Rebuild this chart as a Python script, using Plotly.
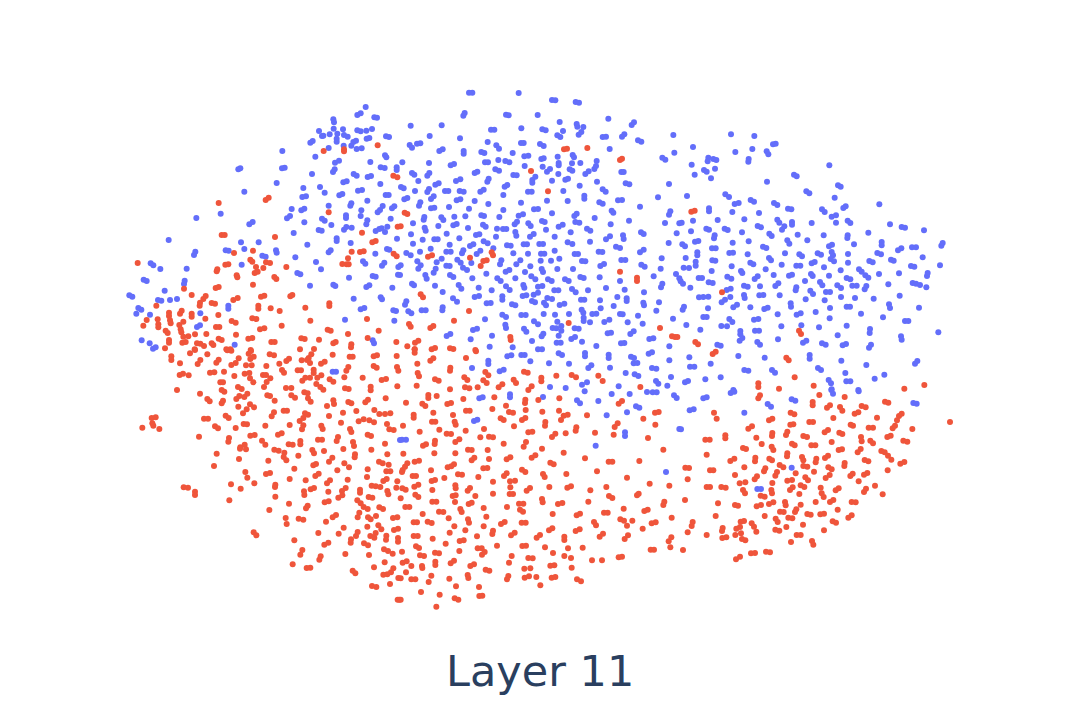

import plotly.graph_objects as go

# positions are read in blocks, each with its own origin (scale: 3 units = 1 px)
blue_a = [(737,81),(712,105),(722,100),(763,112),(771,113),(640,118),(642,127),(597,153),(641,146),(669,148),(712,151),(722,154),(739,152),(756,147),(606,168),(610,167),(629,163),(652,161),(672,165),(683,170),(650,176),(650,185),(798,169),(807,171),(740,176),(748,174),(571,188),(578,183),(700,186),(708,182),(671,197),(694,197),(626,204),(710,207),(725,205),(487,213),(795,226),(799,232),(586,230),(645,248),(657,242),(751,246),(355,268),(361,265),(486,265),(494,263),(782,262),(794,264),(830,262),(830,270),(639,276),(644,268),(576,282),(701,282),(710,287),(743,291),(753,288),(470,309),(670,307),(680,304),(781,312),(550,324),(600,321),(373,335),(614,338),(714,332),(726,330),(547,351),(558,349),(658,346),(667,342),(797,345),(806,345),(742,362),(691,377),(694,370),(626,377),(515,387),(544,391),(553,386),(788,378),(816,385),(823,379),(724,391),(773,397),(780,390),(302,401),(229,414),(678,406),(678,414),(722,408),(501,415),(510,408),(606,416),(614,422),(812,416),(553,427),(388,433),(398,426),(742,421),(739,433),(634,435),(672,449),(679,441),(695,443),(802,440),(596,450),(605,452),(767,453),(778,447),(785,445),(795,456),(521,459),(831,476),(650,475),(650,483),(692,489),(146,480),(562,494),(801,507),(808,509),(626,517),(632,511),(317,511),(326,512),(363,487),(416,487),(373,507),(468,511),(470,518),(766,521),(222,525),(226,515),(427,527),(437,530),(526,532),(588,546),(729,544),(736,551),(786,557),(793,548),(365,554),(92,550),(100,556),(121,567),(200,566),(603,568),(835,561),(532,579),(541,583),(758,588),(767,590),(834,584),(687,593),(71,599),(80,603),(194,602),(192,612),(570,617),(640,614),(646,618),(739,621),(748,616),(817,623),(134,632),(28,646),(37,650),(114,660),(124,662),(150,660),(171,657),(701,656),(782,652),(786,658),(325,677),(325,686),(55,684),(64,689),(722,688),(733,684),(820,691),(828,693),(49,701),(90,704),(241,700),(675,719),(823,722),(231,741),(240,736),(65,781),(89,790),(99,806),(107,802),(344,794),(758,781),(762,790)]
red_a = [(672,208),(672,214),(611,213),(773,196),(820,287),(832,292),(437,360),(446,353),(296,369),(626,397),(833,440),(726,458),(305,465),(314,465),(465,471),(757,487),(767,483),(342,519),(399,512),(695,515),(720,516),(731,514),(821,521),(830,529),(684,535),(391,539),(397,545),(438,547),(450,549),(667,552),(680,553),(686,553),(316,554),(325,553),(53,549),(430,564),(408,561),(499,561),(290,574),(292,568),(404,579),(413,575),(350,586),(352,592),(463,591),(469,597),(399,614),(192,626),(287,624),(296,621),(215,645),(423,650),(433,647),(511,649),(517,645),(257,648),(250,657),(340,660),(353,654),(240,668),(239,677),(275,669),(285,671),(628,670),(628,678),(109,677),(415,677),(415,686),(452,685),(556,683),(180,701),(185,692),(147,698),(147,708),(215,701),(215,710),(479,693),(295,705),(256,716),(397,715),(409,717),(571,722),(741,717),(150,721),(152,730),(113,718),(335,723),(347,728),(178,735),(190,725),(80,720),(70,737),(115,733),(115,742),(288,741),(298,741),(485,737),(420,748),(433,745),(623,749),(632,752),(776,752),(137,752),(143,759),(182,748),(184,757),(259,762),(225,763),(348,764),(684,762),(205,769),(190,770),(385,776),(397,774),(296,776),(305,780),(544,775),(554,777),(597,779),(743,774),(147,780),(147,788),(187,788),(197,786),(454,786),(464,786),(640,790),(647,786),(829,786),(231,790),(241,791),(275,790),(280,795),(694,793),(693,802),(252,798),(135,805),(224,808),(319,808),(331,808),(392,810),(540,808),(582,807)]
blue_b = [(207,38),(217,38),(356,39),(456,60),(466,61),(527,66),(537,68),(190,107),(194,99),(318,104),(326,106),(413,105),(625,116),(479,126),(32,137),(125,136),(530,132),(532,140),(695,135),(702,127),(273,149),(283,149),(364,145),(427,148),(437,151),(550,141),(489,153),(536,164),(544,156),(472,166),(481,171),(89,168),(180,175),(820,165),(608,171),(618,170),(666,170),(673,163),(714,181),(724,185),(263,186),(363,189),(371,189),(51,191),(61,190),(29,195),(36,203),(420,192),(431,198),(289,196),(297,206),(629,207),(118,213),(128,208),(191,213),(191,221),(244,216),(253,219),(338,219),(823,218),(373,229),(385,227),(473,230),(518,225),(522,232),(787,233),(796,239),(424,237),(431,235),(7,247),(87,249),(295,240),(316,243),(328,247),(255,247),(264,247),(541,249),(590,243),(516,250),(476,249),(476,256),(152,256),(162,252),(374,258),(428,260),(583,267),(588,258),(441,275),(450,267),(509,268),(517,272),(286,268),(297,272),(224,279),(232,275),(664,276),(671,276),(36,279),(43,284),(82,287),(88,279),(340,285),(350,286),(475,282),(556,282),(566,274),(406,290),(397,300),(397,308),(496,299),(504,296),(262,305),(266,296),(168,303),(181,298),(456,302),(55,303),(591,305),(677,310),(688,313),(807,312),(106,314),(116,310),(314,320),(322,315),(539,317),(3,321),(11,325),(45,333),(82,336),(87,327),(135,333),(145,333),(179,333),(191,335),(241,335),(251,329),(384,335),(395,335),(490,333),(608,328),(617,335),(310,345),(93,357),(101,349),(553,347),(553,356),(13,358),(22,354),(170,361),(181,358),(224,363),(441,362),(503,363),(654,361),(666,360),(774,352),(363,368),(265,372),(57,377),(61,367),(598,367),(608,371),(147,381),(93,385),(103,383),(207,386),(720,380),(310,390),(402,388),(414,387),(635,392),(640,398),(807,404),(811,394),(456,400),(244,406),(252,408),(356,407),(369,403),(523,408),(530,401),(71,419),(73,411),(124,412),(130,420),(163,410),(196,409),(298,411),(584,414),(426,423),(434,426),(526,426),(538,428),(687,422),(39,430),(795,429),(344,433),(351,425),(385,430),(392,438),(632,433),(838,430),(160,436),(170,432),(115,438),(476,440),(488,434),(249,434),(257,440),(204,444),(74,443),(77,452),(291,446),(309,447),(319,447),(438,449),(561,446),(571,452),(512,457),(33,463),(140,461),(723,457),(731,462),(830,460),(346,456),(349,467),(228,465),(238,463),(390,470),(401,462),(288,470),(669,466),(671,477),(618,478),(630,469),(178,475),(68,479),(103,478),(113,478),(464,470),(251,484),(263,490),(39,491),(149,494),(210,498),(220,493),(321,496),(332,497),(371,493),(381,493),(418,492),(429,492),(503,487),(517,492),(570,485),(806,489),(92,506),(280,505),(648,500),(660,504),(464,512),(19,519),(32,526),(60,515),(139,515),(152,515),(186,520),(190,511),(230,522),(241,512),(340,520),(384,521),(423,521),(433,521),(596,515),(607,516),(720,517),(731,509),(524,522),(534,522),(125,536),(785,535),(172,539),(182,548),(214,549),(478,536),(52,544),(300,553),(304,541),(349,553),(361,541),(422,542),(453,542),(546,543),(556,544),(664,540),(676,540),(2,556),(62,556),(110,547),(139,557),(149,558),(391,559),(601,558),(612,552),(724,554),(734,560),(55,566),(189,563),(201,570),(472,567),(519,567),(782,566),(101,578),(107,566),(317,575),(328,570),(375,576),(425,567),(429,576),(259,581),(0,585),(150,585),(160,591),(76,585),(80,596),(346,595),(394,589),(406,598),(541,591),(551,594),(599,592),(761,589),(828,582),(838,595),(217,595),(292,595),(302,603),(444,598),(455,603),(495,598),(506,603),(660,603),(783,622),(787,611),(36,611),(42,616),(105,617),(176,615),(184,626),(370,615),(373,623),(414,620),(427,618),(236,623),(318,619),(329,630),(618,624),(516,627),(527,637),(564,631),(674,629),(128,636),(275,631),(463,631),(475,631),(732,637),(401,644),(414,638),(224,651),(237,648),(368,648),(379,646),(652,651),(307,649),(307,659),(442,654),(456,657),(159,655),(171,665),(543,659),(553,659),(600,661),(680,655),(680,663),(260,670),(272,669),(396,663),(405,667),(777,667),(15,674),(19,664),(336,673),(346,676),(479,675),(493,671),(432,668),(438,676),(730,668),(732,676),(641,678),(128,682),(127,691),(65,691),(77,691),(602,685),(769,692),(25,694),(34,700),(545,689),(550,698),(431,702),(465,704),(507,702),(577,702),(589,701),(660,702),(668,703),(307,704),(318,711),(364,705),(377,705),(714,707),(551,713),(551,723),(255,718),(819,716),(472,725),(402,724),(414,733),(613,726),(628,719),(570,727),(683,727),(728,731),(316,734),(318,744),(484,738),(524,745),(536,746),(219,750),(231,746),(372,746),(379,755),(458,744),(469,745),(484,752),(691,762),(701,754),(140,768),(151,762),(623,760),(633,758),(276,767),(425,769),(430,761),(476,767),(748,777),(760,775),(212,778),(396,783),(514,777),(525,771),(546,785),(470,788),(482,788),(663,790),(673,789),(589,798),(269,800),(338,802),(808,799),(414,808),(426,808)]
red_b = [(492,208),(501,206),(562,204),(660,240),(666,236),(393,273),(444,334),(14,398),(22,402),(2,439),(84,530),(96,526),(210,533),(275,517),(279,526),(250,543),(260,541),(242,558),(660,575),(711,593),(711,603),(62,643),(69,652),(207,693),(162,722),(506,729),(27,732),(32,740),(91,744),(100,738),(780,744),(331,771),(332,780),(816,769),(825,771),(832,771),(45,788),(55,782),(22,799),(95,808),(105,804),(150,805),(160,807),(44,808),(226,810)]
blue_c = [(153,43),(223,48),(279,73),(287,71),(39,81),(217,87),(166,96),(260,94),(265,103),(85,113),(83,124),(100,117),(109,120),(206,117),(205,125),(35,134),(448,136),(72,150),(80,155),(105,146),(44,164),(342,164),(350,169),(93,175),(261,185),(474,196),(482,200),(379,214),(388,220),(21,228),(136,223),(147,231),(464,233),(212,240),(222,245),(164,252),(176,249),(282,249),(292,255),(598,253),(490,264),(497,259),(87,265),(87,274),(324,266),(334,268),(426,268),(434,276),(157,276),(237,279),(455,290),(468,286),(39,302),(113,300),(193,298),(5,308),(292,299),(298,308),(336,306),(336,314),(395,309),(468,308),(503,302),(511,309),(630,313),(665,321),(675,323),(233,318),(243,322),(306,329),(313,319),(79,326),(87,329),(134,326),(143,330),(33,334),(186,337),(565,338),(732,331),(268,341),(275,348),(353,344),(431,346),(503,346),(502,354),(102,355),(104,346),(45,365),(55,363),(382,361),(322,361),(328,371),(206,364),(158,368),(605,366),(605,376),(522,373),(784,377),(788,369),(7,373),(15,379),(447,379),(456,374),(249,380),(259,384),(96,385),(107,385),(654,391),(664,385),(696,382),(708,382),(52,397),(52,406),(148,399),(159,398),(203,403),(315,400),(358,403),(366,409),(413,400),(423,404),(455,396),(459,406),(504,402),(592,399),(603,403),(17,414),(267,414),(273,421),(97,421),(106,422),(728,412),(452,417),(462,424),(633,419),(641,422),(211,428),(220,433),(305,434),(504,428),(568,423),(578,427),(47,425),(47,437),(349,437),(361,437),(395,430),(404,426),(11,443),(27,444),(155,439),(432,442),(693,438),(703,440),(780,436),(257,448),(95,453),(183,453),(187,459),(482,451),(537,448),(545,455),(657,460),(281,465),(327,467),(336,464),(393,462),(398,468),(447,467),(597,462),(741,468),(743,459),(556,466),(565,473),(224,477),(233,469),(56,474),(66,474),(142,470),(154,476),(500,474),(511,478),(375,483),(2,484),(9,491),(86,487),(98,489),(420,486),(427,496),(625,493),(698,489),(708,491),(720,495),(286,498),(295,490),(192,497),(203,500),(240,499),(472,496),(483,504),(517,497),(530,497),(739,502),(31,503),(347,511),(349,502),(140,510),(152,506),(554,508),(559,498),(391,512),(399,522),(438,516),(450,516),(659,527),(57,532),(70,531),(85,530),(151,531),(192,525),(194,534),(238,526),(250,525),(299,526),(483,531),(525,534),(125,547),(135,539),(377,538),(434,541),(581,536),(332,550),(333,560),(160,562),(171,554),(500,560),(510,560),(8,569),(12,560),(84,565),(211,562),(253,567),(263,563),(450,564),(627,553),(630,564),(717,563),(293,583),(350,584),(362,580),(407,576),(543,581),(70,591),(80,591),(609,592),(222,599),(235,597),(449,595),(148,597),(157,606),(675,603),(685,603),(19,615),(124,618),(141,619),(304,619),(364,616),(500,617),(417,622),(61,629),(225,632),(237,632),(570,627),(569,639),(775,637),(181,633),(181,643),(473,646),(179,662),(187,654),(294,658),(663,649),(665,659),(232,666),(240,674),(369,668),(379,662),(426,670),(437,674),(112,674),(122,677),(488,676),(498,672),(567,683),(573,674),(175,708),(28,712),(254,713),(389,705),(389,716),(484,722),(705,731),(712,723),(92,731),(559,735),(30,740),(43,740),(193,750),(205,752),(414,744),(423,750),(276,750),(285,758),(496,759),(613,764),(15,787),(24,783),(76,778),(122,772),(584,776),(446,780),(453,790),(499,784),(511,784),(455,808),(160,810),(535,810)]
red_c = [(34,275),(44,272),(126,517),(357,632),(363,642),(46,666),(54,673),(98,702),(107,695),(319,713),(326,721),(344,772),(235,790),(235,801),(401,797),(297,806),(733,795),(673,806)]
red_d = [(322,31),(334,32),(210,40),(225,30),(262,43),(386,41),(393,33),(154,49),(154,60),(391,57),(401,50),(356,55),(449,43),(462,46),(638,44),(689,50),(698,50),(761,49),(771,46),(830,48),(566,54),(574,43),(499,63),(507,56),(545,61),(561,60),(570,69),(289,68),(296,59),(233,72),(241,60),(180,70),(334,75),(347,69),(378,76),(395,76),(439,78),(478,71),(603,71),(614,65),(761,78),(770,83),(679,92),(685,81),(831,81),(835,92),(533,91),(543,91),(486,90),(492,98),(581,89),(581,99),(179,105),(189,101),(206,106),(270,98),(283,97),(312,95),(343,108),(374,101),(388,99),(429,105),(438,105),(451,115),(592,113),(604,106),(570,113),(673,112),(728,113),(785,120),(798,117),(547,122),(556,113),(390,115),(400,127),(629,118),(640,125),(301,127),(309,127),(589,132),(432,141),(440,126),(498,144),(514,144),(601,141),(610,149),(675,145),(686,147),(752,140),(752,151),(832,139),(354,141),(365,147),(171,150),(305,150),(313,155),(553,157),(563,160),(240,161),(382,161),(358,168),(373,171),(442,166),(450,168),(514,166),(525,173),(349,177),(262,177),(269,184),(464,182),(564,175),(572,185),(797,175),(640,181),(642,192),(736,187),(744,179),(305,190),(309,182),(685,186),(694,190),(390,193),(402,202),(355,200),(621,198),(491,212),(501,212),(555,220),(564,224),(369,220),(380,208),(709,213),(763,210),(669,218),(455,229),(462,217),(778,222),(795,222),(811,220),(317,227),(326,234),(627,228),(252,236),(264,236),(95,234),(107,232),(539,243),(550,234),(731,238),(716,244),(748,241),(762,247),(371,252),(381,253),(663,248),(97,250),(100,257),(801,252),(436,257),(509,255),(285,259),(294,265),(347,264),(604,257),(608,267),(546,268),(550,256),(67,263),(118,267),(808,268),(821,270),(690,267),(694,276),(474,284),(485,280),(391,287),(404,285),(237,290),(743,284),(753,288),(327,294),(325,305),(594,299),(606,299),(654,291),(650,303),(426,302),(436,314),(541,303),(541,313),(506,313),(518,314),(795,311),(699,306),(702,318),(361,322),(374,314),(378,328),(360,326),(463,329),(476,332),(670,327),(754,329),(612,333),(577,330),(582,340),(290,341),(493,338),(535,347),(802,343),(705,343),(704,352),(491,351),(499,361),(357,357),(445,362),(627,365),(637,353),(777,365),(788,370),(580,376),(588,372),(673,370),(687,382),(806,374),(282,378),(523,386),(652,391),(743,388),(799,394),(811,394),(376,396),(438,402),(450,399),(586,408),(596,401),(741,411),(382,413),(509,417),(557,421),(683,419),(790,423),(800,417),(832,424),(621,430),(630,421),(403,430),(333,433),(465,441),(466,434),(755,437),(767,439),(781,441),(829,443),(191,442),(204,443),(362,446),(572,448),(582,444),(666,453),(677,444),(225,455),(225,465),(552,454),(553,465),(625,455),(720,449),(720,458),(802,453),(805,463),(466,470),(655,473),(667,466),(746,471),(757,473),(328,481),(614,487),(626,484),(712,481),(722,490),(731,501),(507,491),(558,505),(563,497),(778,502),(789,507),(448,510),(743,507),(638,532),(648,525),(713,532),(718,518),(497,534),(768,528),(536,536),(550,539),(819,534),(832,532),(744,532),(752,538),(618,545),(500,552),(742,560),(775,556),(784,568),(671,563),(822,570),(834,566),(401,577),(409,586),(595,579),(656,581),(708,588),(713,576),(767,579),(751,588),(763,593),(799,587),(798,599),(523,601),(693,598),(692,608),(834,594),(834,605),(613,614),(625,608),(732,610),(744,616),(792,628),(804,633),(541,644),(547,630),(676,642),(747,645),(818,641),(598,659),(602,649),(794,667),(518,673),(560,684),(571,683),(762,682),(813,697),(820,685),(698,692),(706,700),(790,704),(802,703),(835,714),(810,732),(756,738),(769,741),(833,779),(838,779)]
blue_d = [(638,95),(648,95),(840,300)]
red_e = [(44,28),(44,38),(228,34),(198,54),(91,62),(100,55),(52,71),(151,83),(150,92),(53,99),(57,109),(256,96),(265,106),(372,95),(383,98),(469,107),(193,112),(202,120),(515,105),(528,112),(595,107),(105,118),(116,122),(424,113),(424,124),(250,121),(260,129),(341,119),(348,129),(608,123),(50,137),(195,142),(208,145),(233,142),(296,142),(307,133),(395,139),(385,150),(721,141),(150,148),(85,165),(85,174),(110,168),(18,188),(67,191),(76,198),(190,177),(283,172),(142,192),(153,189),(376,179),(375,189),(415,180),(478,175),(656,191),(666,183),(318,197),(198,212),(209,212),(277,207),(377,210),(327,216),(339,218),(427,215),(477,212),(765,218),(776,216),(100,218),(41,224),(41,233),(159,225),(302,235),(311,240),(366,240),(376,234),(483,240),(491,227),(503,224),(561,226),(730,236),(96,245),(106,245),(164,245),(167,254),(436,246),(435,257),(644,261),(653,250),(766,254),(9,257),(342,259),(252,267),(118,269),(529,262),(527,272),(59,275),(197,272),(140,281),(153,282),(385,277),(397,275),(585,278),(497,280),(641,284),(241,292),(267,290),(279,292),(456,291),(466,281),(744,294),(166,306),(178,298),(105,302),(104,312),(311,311),(371,320),(378,306),(69,317),(78,313),(263,330),(204,329),(215,330),(426,326),(790,329),(491,338),(10,341),(103,340),(166,340),(395,353),(406,346),(555,355),(215,361),(223,353),(267,357),(320,358),(331,352),(626,365),(637,365),(718,363),(44,365),(57,362),(451,368),(461,373),(22,370),(162,373),(143,382),(154,379),(8,390),(15,380),(250,385),(262,384),(93,391),(366,389),(376,396),(591,394),(6,396),(429,402),(434,411),(499,402),(38,408),(48,408),(174,403),(186,404),(312,408),(320,400),(235,411),(133,414),(681,413),(95,423),(105,420),(330,424),(345,422),(279,425),(749,431),(43,440),(55,434),(166,436),(167,445),(808,437),(331,442),(448,441),(502,443),(513,439),(619,441),(7,445),(17,449),(97,450),(203,452),(210,444),(380,452),(390,444),(571,451),(279,461),(329,462),(339,462),(711,466),(716,461),(46,464),(55,471),(158,468),(167,466),(226,468),(627,468),(637,474),(2,475),(426,477),(428,487),(565,485),(97,485),(109,485),(165,486),(206,492),(215,488),(357,491),(370,491),(474,492),(487,489),(793,485),(790,495),(16,501),(28,501),(321,501),(251,504),(181,507),(185,516),(360,509),(369,515),(671,506),(733,513),(743,509),(117,515),(130,516),(612,518),(623,518),(68,522),(458,522),(530,526),(540,521),(259,530),(146,535),(815,533),(204,538),(207,548),(661,538),(672,542),(697,542),(41,547),(51,547),(83,545),(95,549),(365,548),(377,548),(303,552),(314,546),(582,546),(588,556),(755,550),(767,547),(163,559),(251,559),(681,557),(447,571),(457,565),(728,566),(527,573),(539,568),(196,571),(149,578),(277,582),(279,572),(333,586),(344,578),(599,590),(609,581),(410,593),(420,585),(41,588),(53,588),(231,589),(674,597),(684,586),(493,590),(493,600),(98,596),(806,604),(814,592),(179,603),(191,601),(137,611),(291,617),(367,618),(378,617),(48,619),(57,624),(233,625),(245,625),(435,622),(504,625),(548,623),(811,622),(752,629),(762,629),(178,633),(246,644),(254,636),(6,635),(459,639),(105,638),(117,640),(60,646),(72,648),(335,648),(493,648),(513,654),(385,654),(398,655),(656,652),(666,650),(576,661),(606,661),(8,668),(20,664),(152,670),(162,662),(327,668),(106,665),(106,675),(451,677),(463,676),(211,678),(222,673),(34,678),(66,678),(67,684),(515,683),(373,686),(391,685),(257,689),(268,692),(18,697),(94,707),(203,705),(205,714),(321,718),(325,708),(148,716),(374,713),(387,709),(409,711),(455,713),(466,711),(34,718),(46,718),(2,715),(531,718),(543,724),(86,726),(421,736),(168,739),(237,741),(63,756),(119,764),(238,768),(247,767),(164,775),(175,779),(2,779),(109,800)]
blue_e = [(476,40),(486,45),(364,45),(374,45),(555,39),(555,49),(626,44),(626,54),(322,49),(334,46),(693,50),(702,54),(746,41),(756,37),(808,61),(265,62),(265,72),(391,64),(447,70),(507,71),(701,70),(712,69),(216,84),(565,84),(574,76),(630,83),(299,94),(311,89),(756,84),(769,86),(677,99),(704,103),(715,108),(813,111),(768,123),(775,131),(546,134),(561,127),(450,141),(497,144),(802,137),(656,139),(554,154),(741,156),(758,157),(770,157),(635,162),(689,162),(330,163),(330,172),(238,175),(248,172),(429,171),(822,166),(830,174),(595,183),(531,181),(540,190),(708,199),(718,203),(681,217),(620,226),(222,243),(232,239),(838,267),(675,277),(675,288),(6,299),(18,299),(587,317),(798,396)]
red_f = [(235,85),(240,76),(398,96),(398,106),(494,81),(418,75),(615,95),(625,98),(441,113),(450,106),(480,111),(487,122),(545,108),(557,112),(102,128),(110,146),(332,128),(343,133),(524,131),(535,127),(657,138),(665,131),(267,151),(277,146),(460,144),(591,143),(388,156),(399,156),(331,164),(340,163),(651,151),(512,164),(519,167),(810,156),(205,176),(216,169),(638,175),(645,167),(566,173),(579,173),(434,187),(444,180),(697,177),(277,189),(276,198),(318,195),(322,185),(478,188),(487,192),(136,196),(136,205),(229,203),(370,198),(381,201),(622,201),(632,197),(76,209),(89,209),(543,201),(545,214),(670,212),(682,215),(245,222),(455,216),(336,221),(344,226),(394,226),(406,226),(571,212),(579,220),(189,234),(198,237),(275,230),(280,240),(533,247),(542,237),(476,240),(486,238),(604,243),(614,247),(80,254),(322,250),(321,259),(435,264),(444,257),(624,257),(634,269),(151,273),(163,266),(226,263),(225,274),(268,266),(276,271),(366,261),(370,271),(409,266),(407,277),(554,270),(565,274),(661,281),(673,276),(494,279),(493,288),(299,285),(310,292),(370,288),(382,290),(16,293),(27,294),(193,292),(445,292),(455,298),(90,301),(100,301),(256,295),(252,304),(402,305),(623,301),(291,306),(286,317),(347,310),(518,311),(511,318),(562,309),(552,314),(165,315),(231,319),(224,328),(376,322),(384,331),(449,315),(437,324),(23,328),(322,332),(336,330),(536,334),(179,340),(196,337),(277,339),(80,351),(90,351),(124,351),(137,353),(362,346),(373,351),(585,347),(330,360),(338,352),(422,353),(467,361),(476,355),(552,366),(558,356),(189,360),(195,370),(274,360),(276,370),(358,372),(425,370),(431,381),(608,373),(242,377),(254,380),(15,390),(407,396),(450,396),(460,390),(515,396),(527,397),(114,400),(267,402),(280,397),(315,396),(317,406),(165,405),(174,407),(230,409),(243,405),(362,404),(345,426),(349,418),(473,419),(300,425),(311,426),(107,438),(254,438),(382,432),(392,434),(421,433),(432,431),(325,443),(337,445),(505,443),(515,436),(287,446),(293,456),(182,455),(192,453),(458,454),(468,458),(369,464),(215,460),(222,470),(38,456),(35,468),(169,476),(180,471),(319,471),(128,474),(126,483),(286,479),(298,482),(432,481),(229,485),(23,487),(183,490),(80,495),(166,495),(350,495),(362,495),(127,504),(139,502),(186,507),(196,511),(333,516),(396,513),(400,524),(9,540),(258,545),(270,547),(213,550),(225,549),(168,568),(180,560)]
blue_f = [(454,60),(459,71),(700,99),(710,101),(536,64),(335,88),(346,92),(263,102),(273,110),(193,128),(29,121),(41,118),(70,85),(80,82),(152,69),(163,65),(3,178),(335,293),(232,357),(243,357)]

# block origins in pixels of the 1080x720 frame
origin_a = (120, 80)
origin_b = (400, 80)
origin_c = (680, 120)
origin_d = (120, 340)
origin_e = (400, 340)
origin_f = (680, 370)

BLUE = "#636efa"
RED = "#ef553b"


def place(points, origin):
    return [(origin[0] + x / 3, origin[1] + y / 3) for x, y in points]


blue = (place(blue_a, origin_a) + place(blue_b, origin_b) + place(blue_c, origin_c)
        + place(blue_d, origin_d) + place(blue_e, origin_e) + place(blue_f, origin_f))
red = (place(red_a, origin_a) + place(red_b, origin_b) + place(red_c, origin_c)
       + place(red_d, origin_d) + place(red_e, origin_e) + place(red_f, origin_f))

fig = go.Figure()
fig.add_trace(go.Scatter(
    x=[p[0] for p in blue], y=[p[1] for p in blue], mode="markers",
    marker=dict(color=BLUE, size=6, line=dict(width=0)),
))
fig.add_trace(go.Scatter(
    x=[p[0] for p in red], y=[p[1] for p in red], mode="markers",
    marker=dict(color=RED, size=6, line=dict(width=0)),
))

fig.add_annotation(
    x=540, y=671, text="Layer 11", showarrow=False,
    font=dict(family="DejaVu Sans", size=43, color="#2a3f5f"),
)
# the page has an 8px body margin, so the plot area starts at 8,8
fig.update_layout(
    width=1072, height=712, showlegend=False,
    paper_bgcolor="white", plot_bgcolor="white",
    margin=dict(l=0, r=0, t=0, b=0),
    xaxis=dict(visible=False, range=[8, 1080]),
    yaxis=dict(visible=False, range=[720, 8]),
)
fig.write_html("out.html")
